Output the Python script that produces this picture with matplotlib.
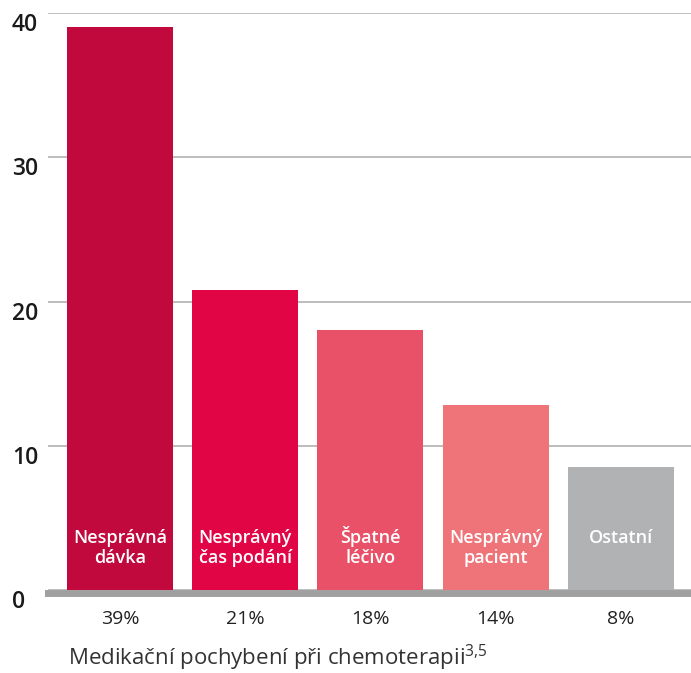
import matplotlib
matplotlib.use("Agg")
import matplotlib.pyplot as plt

# data
kategorie = ["Nesprávná\ndávka", "Nesprávný\nčas podání", "Špatné\nléčivo", "Nesprávný\npacient", "Ostatní"]
hodnoty = [39, 20.8, 18, 12.8, 8.5]
procenta = ["39%", "21%", "18%", "14%", "8%"]
barvy = ["#C1093E", "#E20546", "#E85167", "#EE7479", "#B1B2B4"]
yticky = [0, 10, 20, 30, 40]

plt.rcParams["font.family"] = ["Open Sans", "DejaVu Sans"]
plt.rcParams["mathtext.fontset"] = "custom"
plt.rcParams["mathtext.rm"] = "Open Sans"

fig = plt.figure(figsize=(6.91, 6.73), dpi=100)
ax = fig.add_axes([48/691, 1-590/673, 643/691, 577/673])

x = range(len(hodnoty))
ax.bar(x, hodnoty, width=0.846, color=barvy, zorder=2)

# labels inside the bars, line by line on baselines
for i, t in enumerate(kategorie):
    for j, radek in enumerate(t.split("\n")):
        ax.text(i, 3.26 - j*1.39, radek, ha="center", va="baseline", color="white",
                fontsize=13, fontweight="semibold", zorder=3)

ax.set_xlim(-0.575, 4.56)
ax.set_ylim(0, 40)
ax.set_yticks(yticky)
ax.set_yticklabels([str(v) for v in yticky])
ax.tick_params(axis="y", length=0, pad=26, labelsize=16.5, labelcolor="#1a1a1a")
for lab in ax.get_yticklabels():
    lab.set_horizontalalignment("left")
    lab.set_verticalalignment("top")
    lab.set_fontweight("semibold")

ax.set_xticks(list(x))
ax.set_xticklabels(procenta)
ax.tick_params(axis="x", length=0, pad=12, labelsize=14, labelcolor="#222222")

ax.yaxis.grid(True, color="#ABABAB", linewidth=1.1)
ax.set_axisbelow(True)
for s in ["left", "right", "top"]:
    ax.spines[s].set_visible(False)
ax.spines["bottom"].set_color("#A0A0A0")
ax.spines["bottom"].set_linewidth(5)
ax.spines["bottom"].set_position(("outward", 2.5))

fig.text(68/691, 1-665/673, r"Medikační pochybení při chemoterapii$^{3{,}5}$",
         fontsize=16, color="#333333", ha="left", va="baseline")

fig.savefig("out.png", dpi=100)
